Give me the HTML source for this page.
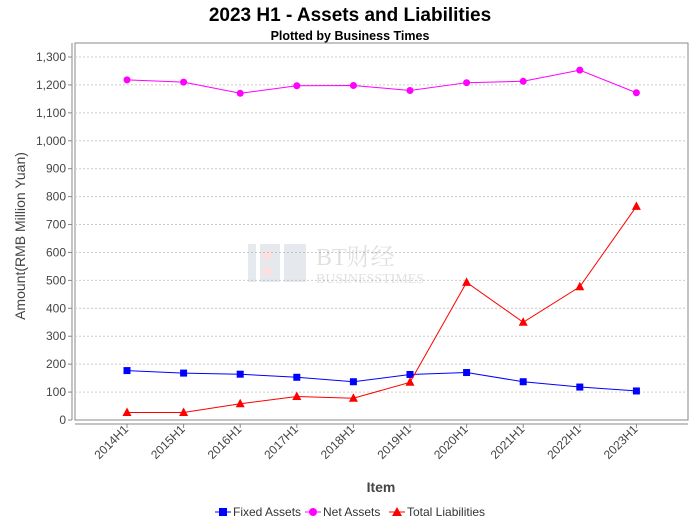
<!DOCTYPE html>
<html><head><meta charset="utf-8"><style>
body{margin:0;background:#fff;font-family:"Liberation Sans",sans-serif;}
</style></head><body>
<svg id="c" width="700" height="524" xmlns="http://www.w3.org/2000/svg">
<text x="350" y="21" text-anchor="middle" font-size="19" font-weight="bold">2023 H1 - Assets and Liabilities</text>
<text x="350" y="40" text-anchor="middle" font-size="12.5" font-weight="bold">Plotted by Business Times</text>
<rect x="75" y="43" width="613" height="377" fill="#fff" stroke="#888"/>
<g id="grid"></g>
<g opacity="0.25">
<rect x="248" y="244" width="8" height="38" fill="#9ab"/><rect x="260" y="244" width="20" height="38" fill="#9ab"/><rect x="284" y="244" width="22" height="38" fill="#9ab"/>
<circle cx="267" cy="255" r="5" fill="#e88"/><circle cx="267" cy="271" r="5" fill="#e88"/>
<text x="316" y="265" font-size="24" font-family="Liberation Serif,'Noto Serif CJK SC',serif" fill="#888">BT财经</text>
<text x="316" y="283" font-size="14" font-family="Liberation Serif,serif" fill="#888">BUSINESSTIMES</text>
</g>
<g id="series"></g>
<g id="axes"></g>
<text transform="translate(25,236) rotate(-90)" text-anchor="middle" font-size="14" fill="#444">Amount(RMB Million Yuan)</text>
<text x="381" y="492" text-anchor="middle" font-size="14" font-weight="bold" fill="#444">Item</text>
<g font-size="12" fill="#333">
<g><line x1="215" y1="512" x2="231" y2="512" stroke="#00f"/><rect x="219" y="508" width="8" height="8" fill="#00f"/><text x="233" y="516">Fixed Assets</text></g>
<g><line x1="305" y1="512" x2="321" y2="512" stroke="#f0f"/><circle cx="313" cy="512" r="4" fill="#f0f"/><text x="323" y="516">Net Assets</text></g>
<g><line x1="389" y1="512" x2="405" y2="512" stroke="#f00"/><polygon points="397,507 402,516 392,516" fill="#f00"/><text x="407" y="516">Total Liabilities</text></g>
</g>
</svg>
<script>
const categories=["2014H1","2015H1","2016H1","2017H1","2018H1","2019H1","2020H1","2021H1","2022H1","2023H1"];
const fixedAssets=[177,168,164,153,137,163,170,137,118,104];
const netAssets=[1218,1210,1170,1197,1198,1180,1208,1213,1253,1172];
const totalLiabilities=[27,27,58,84,78,135,493,350,477,765];
const yTicks=[0,100,200,300,400,500,600,700,800,900,1000,1100,1200,1300];
const NS="http://www.w3.org/2000/svg";
const y=v=>420-v*(363/1300);
const x=i=>127+i*56.6;
function mk(t,a,p){const e=document.createElementNS(NS,t);for(const k in a)e.setAttribute(k,a[k]);p.appendChild(e);return e;}
const grid=document.getElementById('grid'),axes=document.getElementById('axes'),ser=document.getElementById('series');
yTicks.forEach(v=>{
 if(v>0){const g=mk('line',{x1:75,x2:688,y1:y(v),y2:y(v),stroke:'#ccc','stroke-dasharray':'2,2'},grid);
 
 }
 mk('line',{x1:68,x2:72,y1:y(v),y2:y(v),stroke:'#888'},axes);
 const t=mk('text',{x:66,y:y(v)+4,'text-anchor':'end','font-size':12,fill:'#444'},axes);
 t.textContent=v.toLocaleString('en-US');
 
 
});
mk('line',{x1:72,x2:72,y1:43,y2:420,stroke:'#888'},axes);
mk('line',{x1:75,x2:688,y1:424,y2:424,stroke:'#888'},axes);
categories.forEach((c,i)=>{
 mk('line',{x1:x(i),x2:x(i),y1:424,y2:428,stroke:'#888'},axes);
 const t=mk('text',{transform:`translate(${x(i)+2},${430}) rotate(-45)`,'text-anchor':'end','font-size':12,fill:'#444'},axes);
 t.textContent=c;
 
 
});
function line(d,col,shape,name){
 const p=mk('polyline',{points:d.map((v,i)=>x(i)+','+y(v)).join(' '),fill:'none',stroke:col,'stroke-width':1},ser);
 
 
 d.forEach((v,i)=>{let m;
  if(shape==='sq')m=mk('rect',{x:x(i)-3.5,y:y(v)-3.5,width:7,height:7,fill:col},ser);
  else if(shape==='c')m=mk('circle',{cx:x(i),cy:y(v),r:3.5,fill:col},ser);
  else m=mk('polygon',{points:`${x(i)},${y(v)-5} ${x(i)+4.5},${y(v)+3.5} ${x(i)-4.5},${y(v)+3.5}`,fill:col},ser);
  
  
 });
}
line(fixedAssets,'#00f','sq','fixed-assets');
line(netAssets,'#f0f','c','net-assets');
line(totalLiabilities,'#f00','t','total-liabilities');
</script>
</body></html>
